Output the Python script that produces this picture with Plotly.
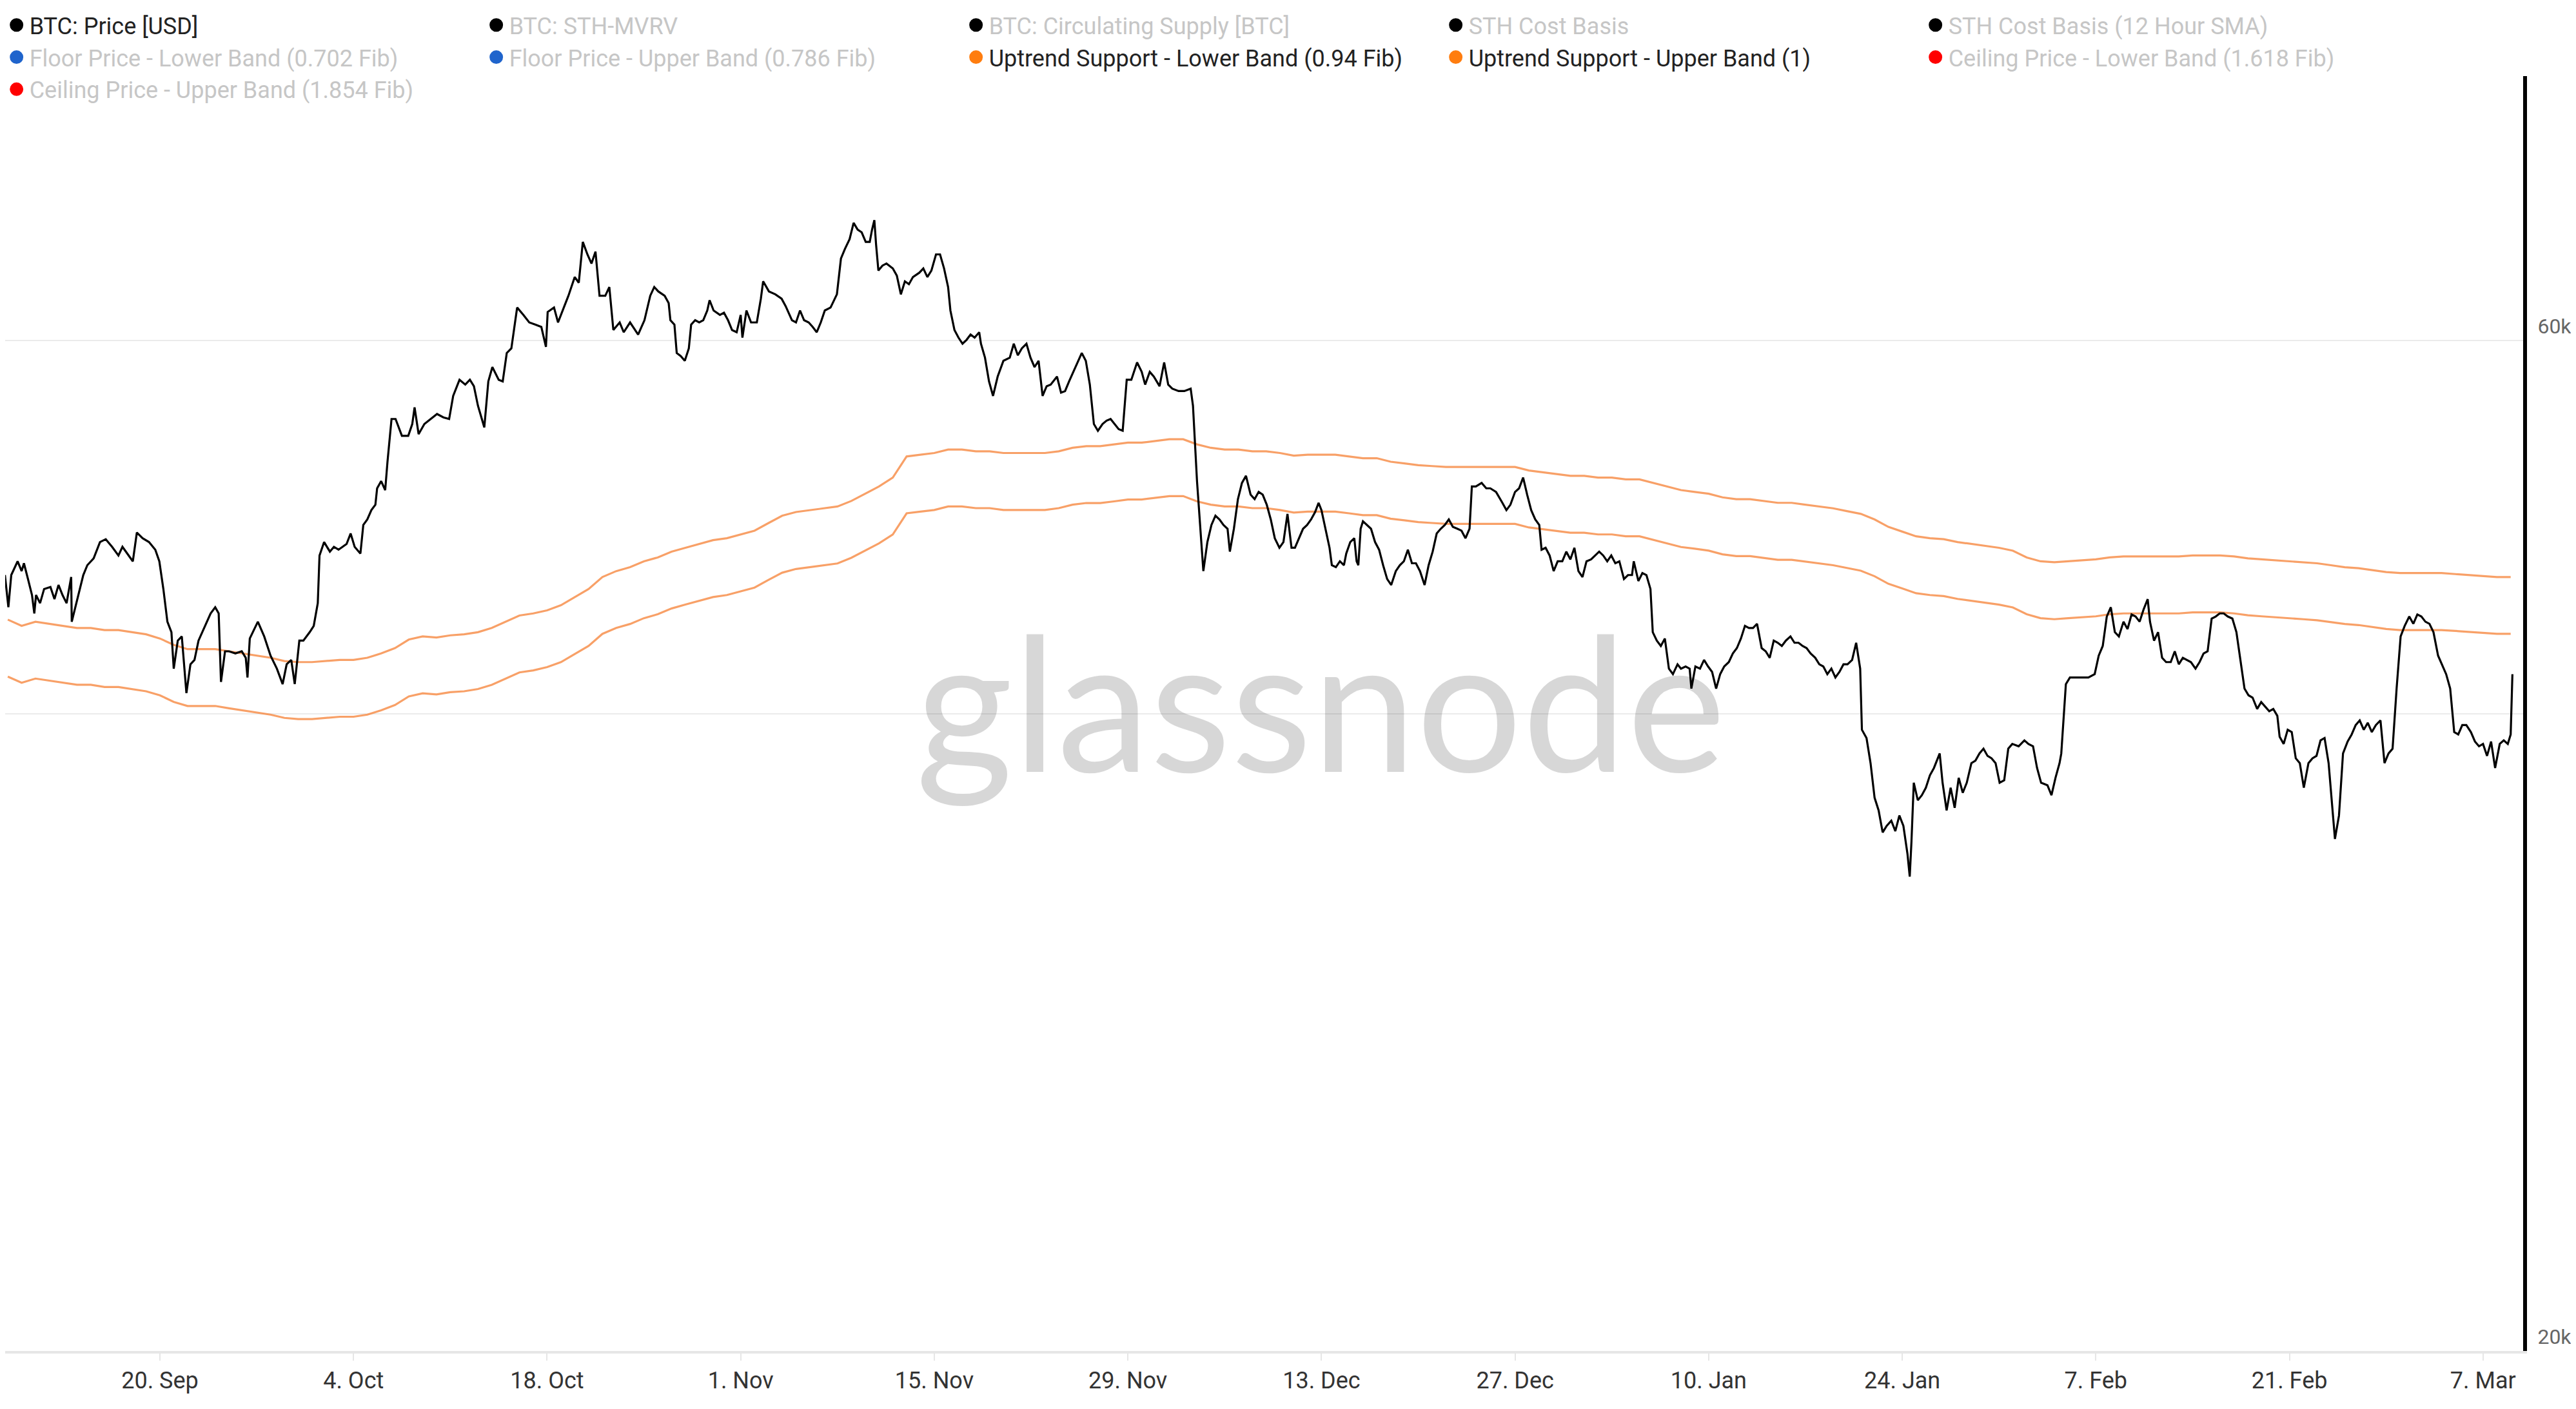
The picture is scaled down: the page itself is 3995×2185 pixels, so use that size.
import pandas as pd
import plotly.graph_objects as go

# ---------------- data ----------------
START = pd.Timestamp("2021-09-08")  # price timestamps are hours after this instant

price_hours = [
    19, 25, 30, 41, 48, 52, 59, 66, 70, 73,
    80, 87, 98, 105, 112, 119, 126, 134, 135, 144,
    155, 162, 173, 184, 194, 205, 216, 223, 234, 241,
    248, 258, 269, 280, 287, 294, 301, 308, 312, 319,
    326, 334, 341, 348, 355, 369, 376, 384, 390, 394,
    401, 408, 419, 430, 437, 440, 444, 458, 469, 480,
    491, 501, 508, 516, 522, 530, 537, 548, 555, 562,
    565, 573, 583, 590, 598, 605, 612, 619, 626, 636,
    641, 648, 655, 662, 665, 672, 679, 683, 690, 697,
    708, 719, 726, 730, 737, 747, 758, 769, 780, 790,
    797, 808, 818, 826, 833, 840, 851, 858, 865, 876,
    883, 890, 898, 908, 919, 929, 940, 950, 958, 961,
    972, 979, 990, 997, 1008, 1015, 1022, 1030, 1037, 1044,
    1051, 1061, 1068, 1075, 1086, 1093, 1104, 1118, 1129,
    1139, 1146, 1153, 1164, 1171, 1174, 1181, 1185, 1192, 1199,
    1206, 1210, 1217, 1224, 1231, 1238, 1242, 1249, 1260, 1267,
    1274, 1281, 1289, 1296, 1299, 1306, 1314, 1324, 1331, 1335,
    1345, 1356, 1367, 1374, 1385, 1392, 1399, 1406, 1414, 1421,
    1428, 1435, 1442, 1452, 1463, 1470, 1477, 1485, 1492, 1499,
    1506, 1513, 1520, 1524, 1528, 1531, 1535, 1542, 1549, 1560,
    1567, 1574, 1581, 1588, 1595, 1606, 1613, 1620, 1627, 1635,
    1642, 1649, 1656, 1660, 1667, 1674, 1681, 1688, 1695, 1702,
    1710, 1713, 1720, 1727, 1734, 1742, 1752, 1763, 1770, 1777,
    1784, 1792, 1799, 1806, 1813, 1820, 1827, 1834, 1845, 1852,
    1859, 1866, 1877, 1888, 1895, 1902, 1909, 1916, 1924, 1931,
    1938, 1945, 1952, 1959, 1966, 1974, 1984, 1992, 1998, 2006,
    2013, 2023, 2031, 2038, 2045, 2056, 2066, 2077, 2081, 2088,
    2095, 2099, 2106, 2113, 2120, 2127, 2134, 2141, 2145, 2152,
    2159, 2166, 2173, 2181, 2188, 2195, 2202, 2209, 2216, 2223,
    2231, 2238, 2245, 2252,
    2258, 2265, 2272, 2279, 2286, 2293, 2299, 2304, 2311, 2318,
    2322, 2329, 2336, 2343, 2347, 2354, 2361, 2365, 2368, 2372,
    2376, 2383, 2390, 2397, 2404, 2411, 2418, 2425, 2433, 2440,
    2447, 2454, 2461, 2468, 2475, 2483, 2490, 2497, 2504, 2511,
    2518, 2525, 2532, 2540, 2547, 2554, 2561, 2565, 2572, 2582,
    2590, 2597, 2607, 2618, 2625, 2632, 2640, 2647, 2654, 2661,
    2668, 2675, 2682, 2686, 2693, 2700, 2707, 2714, 2722, 2729,
    2736, 2743, 2750, 2757, 2764, 2772, 2779, 2786, 2793, 2800,
    2807, 2814, 2821, 2829, 2836, 2843, 2846, 2854, 2861, 2868,
    2875, 2879, 2886, 2893, 2900, 2907, 2914, 2922, 2928, 2936,
    2943, 2946, 2953, 2961, 2968, 2975, 2982, 2989, 2996, 3003,
    3011, 3018, 3025, 3032, 3039, 3046, 3053, 3060, 3068, 3075,
    3082, 3089, 3096, 3103, 3110, 3118, 3125, 3132, 3139, 3146,
    3153, 3161, 3168, 3175, 3182, 3189, 3196, 3203, 3210, 3217,
    3225, 3232, 3239, 3242, 3250, 3257, 3264, 3271, 3278, 3285,
    3293, 3300, 3307, 3314, 3321, 3325, 3328, 3332, 3339, 3346,
    3353, 3360, 3367, 3377,
    3382, 3389, 3396, 3403, 3410, 3417, 3424, 3432, 3439, 3446,
    3453, 3460, 3467, 3474, 3481, 3489, 3496, 3503, 3514, 3524,
    3531, 3539, 3546, 3553, 3564, 3571, 3578, 3585, 3588, 3596,
    3603, 3613, 3624, 3635, 3646, 3653, 3660, 3667, 3674, 3681,
    3688, 3696, 3703, 3710, 3717, 3724, 3731, 3738, 3742, 3749,
    3756, 3763, 3770, 3778, 3785, 3792, 3799, 3806, 3813, 3821,
    3828, 3835, 3842, 3849, 3856, 3863, 3870, 3877, 3885, 3892,
    3899, 3906, 3913, 3920, 3928, 3935, 3942, 3949, 3956, 3963,
    3967, 3974, 3981, 3988, 3995, 4002, 4009, 4017, 4024, 4031,
    4038, 4045, 4052, 4060, 4063, 4070, 4077, 4085, 4092, 4099,
    4106, 4113, 4120, 4127, 4134, 4142, 4149, 4156, 4163, 4170,
    4177, 4184, 4192, 4199, 4206, 4213, 4220, 4227, 4234, 4242,
    4249, 4256, 4263, 4270, 4277, 4284, 4291, 4299, 4306, 4313,
    4320, 4327, 4334, 4341, 4349, 4356, 4363, 4368, 4371,
]

# BTC price in thousands of USD
price_kusd = [
    46.5, 44.9, 46.5, 47.2, 46.7, 47.1, 46.3, 45.5, 44.6, 45.5,
    45.1, 45.8, 45.9, 45.3, 46.0, 45.5, 45.1, 46.4, 44.2, 45.2,
    46.5, 47.0, 47.35, 48.2, 48.35, 47.95, 47.5, 47.95, 47.5, 47.2,
    48.7, 48.4, 48.2, 47.8, 47.2, 45.8, 44.2, 43.7, 42.0, 43.3,
    43.5, 40.9, 42.2, 42.4, 43.3, 44.2, 44.6, 44.9, 44.6, 41.4,
    42.8, 42.8, 42.7, 42.8, 42.5, 41.6, 43.4, 44.2, 43.5, 42.6,
    42.0, 41.3, 42.2, 42.4, 41.3, 43.3, 43.3, 43.7, 44.0, 45.1,
    47.5, 48.2, 47.7, 47.95, 47.8, 47.95, 48.1, 48.65, 47.95, 47.6,
    49.1, 49.4, 49.9, 50.2, 51.1, 51.5, 51.0, 52.6, 55.1, 55.1,
    54.1, 54.1, 54.8, 55.8, 54.2, 54.8, 55.1, 55.4, 55.2, 55.1,
    56.5, 57.5, 57.2, 57.5, 57.1, 55.9, 54.6, 57.4, 58.3, 57.5,
    57.4, 59.2, 59.5, 62.2, 61.7, 61.2, 61.05, 60.9, 59.6, 61.9,
    62.2, 61.2, 62.3, 63.0, 64.3, 63.9, 66.8, 65.9, 65.25, 66.1,
    63.0, 63.0, 63.6, 60.7, 61.2, 60.55, 61.2, 60.4, 61.35,
    63.0, 63.6, 63.3, 63.0, 62.5, 61.35, 61.05, 59.2, 59.0, 58.7,
    59.5, 61.05, 61.35, 61.2, 61.35, 62.0, 62.7, 62.0, 61.7, 61.85,
    61.35, 60.7, 60.55, 61.7, 60.2, 62.0, 61.2, 61.2, 62.8, 64.0,
    63.3, 63.1, 62.8, 62.3, 61.35, 61.2, 62.0, 61.35, 61.2, 60.9,
    60.55, 61.2, 62.0, 62.2, 63.1, 65.6, 66.3, 67.0, 68.2, 67.7,
    67.5, 66.8, 66.8, 67.7, 68.4, 66.6, 64.75, 65.1, 65.25, 64.9,
    64.4, 63.1, 64.0, 63.8, 64.3, 64.6, 64.9, 64.3, 64.75, 65.9,
    65.9, 64.9, 63.6, 62.0, 60.7, 60.2, 59.8, 60.05, 60.4, 60.2,
    60.55, 59.8, 58.9, 57.4, 56.5, 57.7, 58.7, 58.9, 59.8, 59.05,
    59.5, 59.8, 58.9, 58.3, 58.7, 56.5, 57.1, 57.2, 57.7, 56.7,
    56.8, 57.4, 58.3, 59.2, 58.7, 57.2, 54.8, 54.4, 54.8, 55.0,
    55.1, 54.8, 54.5, 54.4, 57.5, 57.5, 58.6, 58.0, 57.2, 58.0,
    57.7, 57.1, 58.6, 57.2, 56.95, 56.8, 56.8, 56.95, 55.9, 51.5,
    48.4, 46.7, 48.2, 49.1, 49.6, 49.4, 49.1, 48.9, 47.7, 48.9,
    50.5, 51.4, 51.8, 50.75, 50.5, 50.9, 50.75, 50.2, 49.4, 48.4,
    47.9, 48.2, 49.7, 47.9,
    47.9, 48.4, 48.9, 49.1, 49.4, 49.8, 50.3, 49.9, 48.9, 47.9,
    47.0, 46.9, 47.2, 47.0, 47.6, 48.2, 48.4, 47.2, 47.0, 48.9,
    49.3, 49.1, 48.9, 48.2, 47.8, 47.0, 46.3, 46.0, 46.7, 47.0,
    47.2, 47.8, 47.1, 47.1, 46.7, 46.0, 47.0, 47.7, 48.65, 48.9,
    49.1, 49.4, 49.0, 48.9, 48.8, 48.4, 48.9, 51.2, 51.2, 51.4,
    51.1, 51.1, 50.9, 50.3, 49.9, 50.2, 50.9, 51.1, 51.7, 50.75,
    49.9, 49.4, 49.1, 47.8, 47.9, 47.5, 46.7, 47.2, 47.2, 47.7,
    47.3, 47.9, 46.7, 46.4, 47.2, 47.3, 47.5, 47.7, 47.5, 47.2,
    47.5, 47.1, 47.2, 46.3, 46.5, 46.5, 47.2, 46.2, 46.6, 46.5,
    45.8, 43.7, 43.3, 43.05, 43.4, 42.0, 41.75, 42.2, 42.0, 42.1,
    42.0, 41.1, 42.1, 42.0, 42.4, 42.1, 41.85, 41.1, 41.75, 42.1,
    42.3, 42.7, 42.95, 43.4, 44.0, 43.9, 43.9, 44.1, 42.95, 42.8,
    42.5, 43.3, 43.2, 43.05, 43.3, 43.5, 43.2, 43.2, 43.05, 42.95,
    42.7, 42.5, 42.2, 42.1, 41.75, 42.0, 41.6, 41.85, 42.2, 42.2,
    42.4, 43.2, 42.0, 39.3, 38.95, 37.9, 36.5, 36.0, 35.15, 35.4,
    35.6, 35.2, 35.8, 35.4, 34.35, 33.5, 34.8, 37.1, 36.4, 36.6,
    36.9, 37.4, 37.7, 38.3,
    37.1, 36.0, 36.9, 36.1, 37.3, 36.7, 37.1, 37.9, 38.0, 38.3,
    38.5, 38.2, 38.1, 37.9, 37.1, 37.2, 38.5, 38.7, 38.6, 38.85,
    38.7, 38.6, 37.7, 37.1, 37.0, 36.6, 37.3, 37.9, 38.3, 41.3,
    41.6, 41.6, 41.6, 41.6, 41.75, 42.6, 43.05, 44.45, 44.9, 43.7,
    43.5, 44.2, 43.85, 44.55, 44.45, 44.2, 44.8, 45.3, 44.2, 43.3,
    43.7, 42.5, 42.3, 42.3, 42.8, 42.2, 42.5, 42.4, 42.3, 42.0,
    42.3, 42.7, 42.8, 44.35, 44.45, 44.6, 44.6, 44.45, 44.35, 43.7,
    42.4, 41.1, 40.8, 40.7, 40.2, 40.5, 40.3, 40.1, 40.2, 39.9,
    39.0, 38.7, 39.3, 39.2, 38.1, 37.9, 36.9, 37.9, 38.1, 38.2,
    38.85, 38.95, 37.9, 35.6, 34.9, 35.8, 38.3, 38.8, 39.1, 39.5,
    39.7, 39.3, 39.6, 39.2, 39.5, 39.7, 37.9, 38.3, 38.5, 41.1,
    43.5, 44.0, 44.45, 44.1, 44.55, 44.45, 44.2, 44.1, 43.7, 42.6,
    42.2, 41.75, 41.1, 39.2, 39.1, 39.5, 39.5, 39.2, 38.8, 38.6,
    38.7, 38.2, 38.8, 37.7, 38.7, 38.85, 38.7, 39.1, 41.75,
]

# Daily band values, 2021-09-09 .. 2022-03-09 (thousands of USD)
band_first_day = "2021-09-09"
uptrend_upper_kusd = [
    # Sep 9 - Sep 30
    44.3, 44.0, 44.2, 44.1, 44.0, 43.9, 43.9, 43.8, 43.8, 43.7, 43.6,
    43.4, 43.1, 42.9, 42.9, 42.9, 42.8, 42.7, 42.6, 42.5, 42.35, 42.3,
    # Oct
    42.3, 42.35, 42.4, 42.4, 42.5, 42.7, 42.95, 43.35, 43.5, 43.45,
    43.55, 43.6, 43.7, 43.9, 44.2, 44.5, 44.6, 44.75, 45.0, 45.4,
    45.8, 46.4, 46.7, 46.9, 47.2, 47.4, 47.7, 47.9, 48.1, 48.3, 48.4,
    # Nov
    48.6, 48.8, 49.2, 49.6, 49.8, 49.9, 50.0, 50.1, 50.4, 50.8,
    51.2, 51.7, 52.9, 53.0, 53.1, 53.3, 53.3, 53.2, 53.2, 53.1,
    53.1, 53.1, 53.1, 53.2, 53.4, 53.5, 53.5, 53.6, 53.7, 53.7,
    # Dec
    53.8, 53.9, 53.9, 53.6, 53.4, 53.3, 53.3, 53.2, 53.2, 53.1,
    52.95, 53.0, 53.0, 53.0, 52.9, 52.8, 52.8, 52.6, 52.5, 52.4,
    52.35, 52.3, 52.3, 52.3, 52.3, 52.3, 52.3, 52.1, 52.0, 51.9, 51.8,
    # Jan
    51.8, 51.7, 51.7, 51.6, 51.6, 51.4, 51.2, 51.0, 50.9, 50.8,
    50.6, 50.5, 50.5, 50.4, 50.3, 50.3, 50.2, 50.1, 50.0, 49.85,
    49.7, 49.4, 49.0, 48.75, 48.5, 48.4, 48.35, 48.2, 48.1, 48.0, 47.9,
    # Feb
    47.75, 47.4, 47.2, 47.15, 47.2, 47.25, 47.3, 47.4, 47.45, 47.45,
    47.45, 47.45, 47.45, 47.5, 47.5, 47.5, 47.45, 47.35, 47.3, 47.25,
    47.2, 47.15, 47.1, 47.0, 46.9, 46.85, 46.75, 46.65,
    # Mar 1 - Mar 9
    46.6, 46.6, 46.6, 46.6, 46.55, 46.5, 46.45, 46.4, 46.4,
]

uptrend_lower_kusd = [
    # Sep 9 - Sep 30
    41.64, 41.36, 41.55, 41.45, 41.36, 41.27, 41.27, 41.17, 41.17, 41.08, 40.98,
    40.80, 40.51, 40.33, 40.33, 40.33, 40.23, 40.14, 40.04, 39.95, 39.81, 39.76,
    # Oct
    39.76, 39.81, 39.86, 39.86, 39.95, 40.14, 40.37, 40.75, 40.89, 40.84,
    40.94, 40.98, 41.08, 41.27, 41.55, 41.83, 41.92, 42.07, 42.30, 42.68,
    43.05, 43.62, 43.90, 44.09, 44.37, 44.56, 44.84, 45.03, 45.21, 45.40, 45.50,
    # Nov
    45.68, 45.87, 46.25, 46.62, 46.81, 46.91, 47.00, 47.09, 47.38, 47.75,
    48.13, 48.60, 49.73, 49.82, 49.91, 50.10, 50.10, 50.01, 50.01, 49.91,
    49.91, 49.91, 49.91, 50.01, 50.20, 50.29, 50.29, 50.38, 50.48, 50.48,
    # Dec
    50.57, 50.67, 50.67, 50.38, 50.20, 50.10, 50.10, 50.01, 50.01, 49.91,
    49.77, 49.82, 49.82, 49.82, 49.73, 49.63, 49.63, 49.44, 49.35, 49.26,
    49.21, 49.16, 49.16, 49.16, 49.16, 49.16, 49.16, 48.97, 48.88, 48.79, 48.69,
    # Jan
    48.69, 48.60, 48.60, 48.50, 48.50, 48.32, 48.13, 47.94, 47.85, 47.75,
    47.56, 47.47, 47.47, 47.38, 47.28, 47.28, 47.19, 47.09, 47.00, 46.86,
    46.72, 46.44, 46.06, 45.83, 45.59, 45.50, 45.45, 45.31, 45.21, 45.12, 45.03,
    # Feb
    44.89, 44.56, 44.37, 44.32, 44.37, 44.42, 44.46, 44.56, 44.60, 44.60,
    44.60, 44.60, 44.60, 44.65, 44.65, 44.65, 44.60, 44.51, 44.46, 44.42,
    44.37, 44.32, 44.27, 44.18, 44.09, 44.04, 43.95, 43.85,
    # Mar 1 - Mar 9
    43.80, 43.80, 43.80, 43.80, 43.76, 43.71, 43.66, 43.62, 43.62,
]

x_tick_dates = ["2021-09-20", "2021-10-04", "2021-10-18", "2021-11-01", "2021-11-15",
                "2021-11-29", "2021-12-13", "2021-12-27", "2022-01-10", "2022-01-24",
                "2022-02-07", "2022-02-21", "2022-03-07"]
x_tick_labels = ["20. Sep", "4. Oct", "18. Oct", "1. Nov", "15. Nov", "29. Nov", "13. Dec",
                 "27. Dec", "10. Jan", "24. Jan", "7. Feb", "21. Feb", "7. Mar"]
y_tick_vals = [20, 40, 60, 80]
y_tick_labels = ["20k", "", "60k", ""]

legend_names = [
    "BTC: Price [USD]", "BTC: STH-MVRV", "BTC: Circulating Supply [BTC]", "STH Cost Basis",
    "STH Cost Basis (12 Hour SMA)", "Floor Price - Lower Band (0.702 Fib)",
    "Floor Price - Upper Band (0.786 Fib)", "Uptrend Support - Lower Band (0.94 Fib)",
    "Uptrend Support - Upper Band (1)", "Ceiling Price - Lower Band (1.618 Fib)",
    "Ceiling Price - Upper Band (1.854 Fib)",
]
legend_colors = ["#000000", "#000000", "#000000", "#000000", "#000000", "#1f64cc", "#1f64cc",
                 "#ff7d0f", "#ff7d0f", "#ff0000", "#ff0000"]
legend_active = [True, False, False, False, False, False, False, True, True, False, False]

assert len(price_hours) == len(price_kusd)
assert len(uptrend_upper_kusd) == len(uptrend_lower_kusd) == 182

# ---------------- figure ----------------
price_time = START + pd.to_timedelta(price_hours, unit="h")
band_dates = pd.date_range(band_first_day, periods=len(uptrend_upper_kusd), freq="D")

BAND_COLOR = "rgba(246,128,52,0.75)"
FONT = "Roboto"

fig = go.Figure()
fig.add_trace(go.Scatter(x=band_dates, y=uptrend_lower_kusd, mode="lines",
                         line=dict(color=BAND_COLOR, width=3.2), showlegend=False,
                         name="Uptrend Support - Lower Band (0.94 Fib)"))
fig.add_trace(go.Scatter(x=band_dates, y=uptrend_upper_kusd, mode="lines",
                         line=dict(color=BAND_COLOR, width=3.2), showlegend=False,
                         name="Uptrend Support - Upper Band (1)"))
fig.add_trace(go.Scatter(x=price_time, y=price_kusd, mode="lines",
                         line=dict(color="#000000", width=3.2), showlegend=False,
                         name="BTC: Price [USD]"))

# legend entries (dot symbols, inactive series greyed out)
for name, color, active in zip(legend_names, legend_colors, legend_active):
    label = name if active else f'<span style="color:#c6c6c6">{name}</span>'
    fig.add_trace(go.Scatter(x=[None], y=[None], mode="markers", name=label,
                             marker=dict(symbol="circle", size=16, color=color,
                                         line=dict(color=color, width=5)),
                             hoverinfo="skip"))

fig.add_annotation(text="glassnode", x=0.5224, y=0.511, xref="paper", yref="paper",
                   showarrow=False, xanchor="center", yanchor="middle",
                   font=dict(family="Lato", size=290, color="rgba(0,0,0,0.155)"))

fig.update_layout(
    width=3995, height=2185,
    margin=dict(l=0, r=90, t=110, b=98, autoexpand=False),
    paper_bgcolor="white", plot_bgcolor="white",
    font=dict(family=FONT, size=36, color="#333"),
    showlegend=True,
    legend=dict(orientation="h", xref="paper", yref="paper", x=-0.0006, y=1.0552,
                xanchor="left", yanchor="top", entrywidth=699, entrywidthmode="pixels",
                font=dict(family=FONT, size=36, color="#222"), bgcolor="rgba(0,0,0,0)",
                traceorder="normal", itemclick=False, itemdoubleclick=False),
    xaxis=dict(type="date", range=["2021-09-08 19:25", "2022-03-09 21:36"],
               tickvals=x_tick_dates, ticktext=x_tick_labels,
               showgrid=False, zeroline=False, showline=True, linecolor="#e6e6e6", linewidth=4,
               ticks="outside", ticklen=11, tickwidth=2, tickcolor="#e6e6e6",
               tickfont=dict(family=FONT, size=36, color="#333")),
    yaxis=dict(type="log", range=[1.30103, 1.90309], side="right",
               tickvals=y_tick_vals, ticktext=y_tick_labels,
               showgrid=True, gridcolor="#ebebeb", gridwidth=2, zeroline=False,
               showline=True, linecolor="#000000", linewidth=6, ticks="",
               ticklabelposition="outside top", ticklabelstandoff=10,
               tickfont=dict(family=FONT, size=32, color="#666")),
)

fig.write_html("out.html")
